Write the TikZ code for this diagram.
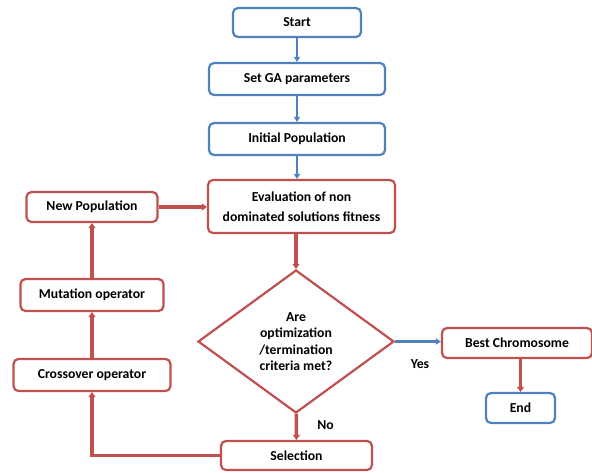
\documentclass[tikz,border=0pt]{standalone}
\usepackage{fontspec}
\setmainfont{Carlito}
\usetikzlibrary{shapes.geometric,arrows.meta}
\definecolor{gared}{HTML}{C0504D}
\definecolor{gablue}{HTML}{4F81BD}
\begin{document}
\begin{tikzpicture}[x=1pt, y=-1pt, font=\bfseries\fontsize{13.7}{16.5}\selectfont,
    box/.style={rounded corners=5pt, line width=2.2pt, fill=white, inner sep=0pt, align=center},
    bluebox/.style={box, draw=gablue},
    redbox/.style={box, draw=gared},
    bluearrow/.style={draw=gablue, line width=2.2pt, -{Triangle[length=5pt,width=6pt]}},
    redarrow/.style={draw=gared, line width=3.4pt, -{Triangle[length=5pt,width=7pt]}}]
  \useasboundingbox (0,0) rectangle (592,472);
  % main column
  \node [bluebox, minimum width=128pt, minimum height=29pt] (start) at (297,22.5) {Start};
  \node [bluebox, minimum width=176pt, minimum height=32pt] (setga) at (297,79) {Set GA parameters};
  \node [bluebox, minimum width=176pt, minimum height=32pt] (init) at (297,139) {Initial Population};
  \node [redbox, minimum width=187pt, minimum height=53pt, font=\bfseries\fontsize{13.7}{20}\selectfont] (eval) at (301.5,206.5) {Evaluation of non\\dominated solutions fitness};
  \node [diamond, draw=gared, line width=2.2pt, fill=white, inner sep=0pt, align=center,
         minimum width=196pt, minimum height=143pt] (crit) at (296,341.5) {Are\\optimization\\/termination\\criteria met?};
  \node [redbox, minimum width=151pt, minimum height=29pt] (sel) at (296.5,455.5) {Selection};
  % loop on the left
  \node [redbox, minimum width=157pt, minimum height=32pt] (cross) at (92,375) {Crossover operator};
  \node [redbox, minimum width=143pt, minimum height=32pt] (mut) at (92,295) {Mutation operator};
  \node [redbox, minimum width=131pt, minimum height=30pt] (newpop) at (92,207) {New Population};
  % exit
  \node [redbox, minimum width=150pt, minimum height=30pt] (best) at (517,343) {Best Chromosome};
  \node [bluebox, minimum width=69pt, minimum height=30pt] (end) at (520.5,408) {End};

  \draw [bluearrow] (start) -- (setga);
  \draw [bluearrow] (setga) -- (init);
  \draw [bluearrow] (init) -- (init |- eval.north);
  \draw [redarrow] (eval.south -| crit) -- (crit);
  \draw [redarrow] (crit) -- node [right=16pt, yshift=2pt] {No} (sel);
  \draw [bluearrow] (crit.east) -- node [below=14pt, xshift=2pt] {Yes} (crit.east -| best.west);
  \draw [redarrow] (best.south -| end) -- (end);
  \draw [redarrow] (sel.west) -| (cross.south);
  \draw [redarrow] (cross) -- (mut);
  \draw [redarrow] (mut) -- (newpop);
  \draw [redarrow] (newpop) -- (newpop -| eval.west);
\end{tikzpicture}
\end{document}
